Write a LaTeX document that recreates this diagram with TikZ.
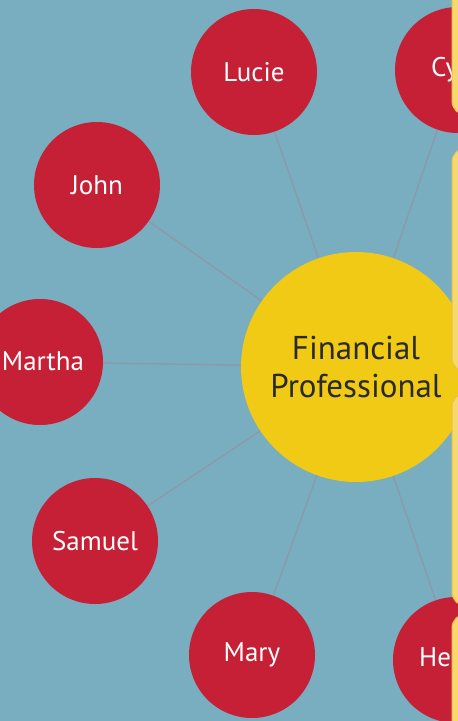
\documentclass[tikz,border=0pt]{standalone}
\usepackage{fontspec}
\setmainfont{PT Sans}
\definecolor{bg}{HTML}{78AEC0}
\definecolor{redc}{HTML}{C62036}
\definecolor{yelc}{HTML}{F0CA14}
\definecolor{boxf}{HTML}{F6D96C}
\definecolor{boxd}{HTML}{E9C347}
\definecolor{linec}{HTML}{8E98A8}
\definecolor{txtd}{HTML}{2A2A2A}
\pgfdeclarelayer{back}
\pgfsetlayers{back,main}
\begin{document}
\begin{tikzpicture}[x=1pt,y=-1pt,
  person/.style={circle,fill=redc,minimum size=126pt,inner sep=0pt,text=white,font=\fontsize{27}{30}\selectfont},
  hub/.style={circle,fill=yelc,minimum size=230pt,inner sep=0pt,text=txtd,align=center,font=\fontsize{33}{38}\selectfont},
  link/.style={draw=linec,line width=1.3pt},
  sidebox/.style={fill=boxf,draw=boxd,line width=1pt,rounded corners=14pt},
  nametext/.style={inner sep=0pt,text=white,font=\fontsize{27}{30}\selectfont},
  cut/.style={nametext,anchor=west}]
\useasboundingbox (0,0) rectangle (458,721);
\clip (0,0) rectangle (458,721);
\node[hub] (fp) at (356,367) {Financial\\Professional};
\node[person] (lucie) at (254,72) {Lucie};
\node[person] (cy) at (458,70) {};
\node[person] (john) at (97,185) {John};
\node[person] (martha) at (40,362) {};
\node[person] (samuel) at (95,541) {Samuel};
\node[person] (mary) at (252,655) {Mary};
\node[person] (he) at (456,660) {};
\node[nametext] (marthat) at (43,361) {Martha};
\node[cut] (cyt) at (431,70) {Cy};
\node[cut] (het) at (419,657) {He};
\begin{pgfonlayer}{back}
\fill[bg] (0,0) rectangle (458,721);
\foreach \n in {lucie,cy,john,martha,samuel,mary,he}
  \draw[link] (fp.center) -- (\n.center);
\end{pgfonlayer}
\draw[sidebox] (452,-40) rectangle (520,115);
\draw[sidebox] (452,148) rectangle (520,372);
\draw[sidebox] (452,393) rectangle (520,606);
\draw[sidebox] (452,614) rectangle (520,780);
\end{tikzpicture}
\end{document}
